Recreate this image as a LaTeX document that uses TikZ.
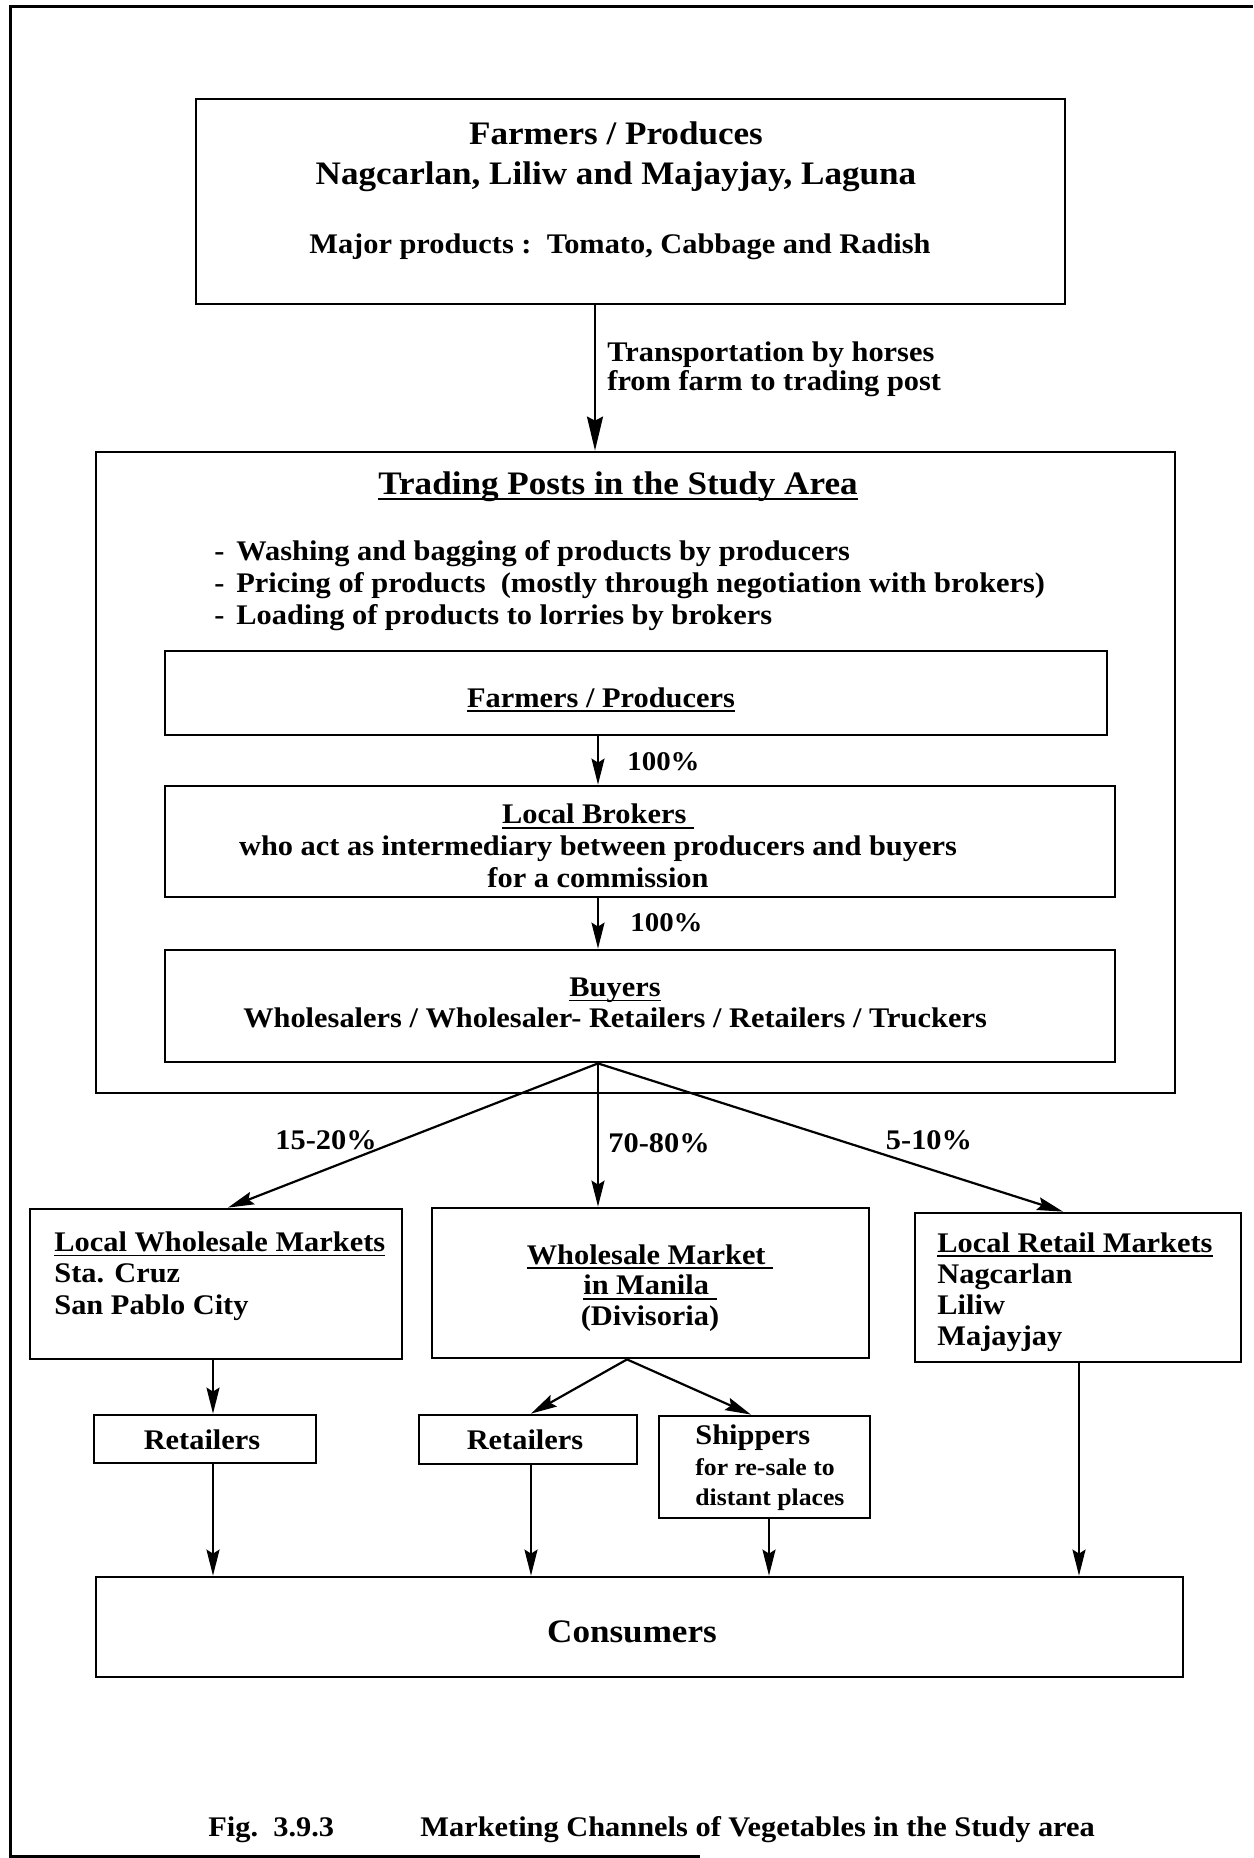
\documentclass[tikz,border=0pt]{standalone}
\usepackage{fontspec}
\setmainfont[FakeStretch=1.07]{Liberation Serif}
\usetikzlibrary{arrows.meta,calc}
\newcommand{\myul}[1]{\setbox0\hbox{#1}\rlap{\rule[-2.4pt]{\wd0}{0.9pt}}\box0}
\tikzset{
  box/.style={draw, line width=1.4pt, rectangle, inner sep=0pt},
  txt/.style={inner sep=0pt, font=\bfseries\fontsize{14.2}{16}\selectfont},
  txtw/.style={inner sep=0pt, font=\bfseries\fontsize{14.2}{15.6}\selectfont},
  big/.style={inner sep=0pt, font=\bfseries\fontsize{16.4}{20}\selectfont},
  arr/.style={line width=1.1pt, -{Stealth[length=13pt,width=6.5pt,inset=2pt]}},
  bigarr/.style={line width=1.1pt, -{Stealth[length=17pt,width=8pt,inset=2pt]}},
  frame/.style={line width=1.5pt},
}
\begin{document}
\begin{tikzpicture}[x=0.5pt,y=-0.5pt]
\useasboundingbox (0,0) rectangle (1253,1858);
\fill[white] (0,0) rectangle (1253,1858);
% page frame
\coordinate (ftl) at (10,6);
\coordinate (ftr) at (1253,6);
\coordinate (fbl) at (10,1856);
\coordinate (fbr) at (700,1856);
\draw[frame] (ftr) -- (ftl) -- (fbl) -- (fbr);

% boxes
\node[box, minimum width=434.5pt, minimum height=102.5pt] (farm) at (630.5,201.5) {};
\node[box, minimum width=539.5pt, minimum height=320.5pt] (trade) at (635.5,772.5) {};
\node[box, minimum width=471pt, minimum height=42pt] (fp) at (636,693) {};
\node[box, minimum width=475pt, minimum height=55.5pt] (brk) at (640,841.5) {};
\node[box, minimum width=475pt, minimum height=56pt] (buy) at (640,1006) {};
\node[box, minimum width=186pt, minimum height=75pt] (lw) at (216,1284) {};
\node[box, minimum width=218.5pt, minimum height=75pt] (man) at (650.5,1283) {};
\node[box, minimum width=163pt, minimum height=74.5pt] (ret) at (1078,1287.5) {};
\node[box, minimum width=111pt, minimum height=24pt] (rl) at (205,1439) {};
\node[box, minimum width=109pt, minimum height=24.5pt] (rm) at (528,1439.5) {};
\node[box, minimum width=105.5pt, minimum height=51pt] (ship) at (764.5,1467) {};
\node[box, minimum width=543.5pt, minimum height=50pt] (cons) at (639.5,1627) {};

% texts
\node[big, align=center] (farmt) at (616,157) {Farmers / Produces\\Nagcarlan, Liliw and Majayjay, Laguna};
\node[txt] (major) at (620,247) {Major products :\ \ Tomato, Cabbage and Radish};
\node[txt, anchor=west, align=left, font=\bfseries\fontsize{14.2}{14.5}\selectfont] (transp) at (607,369) {Transportation by horses\\from farm to trading post};
\node[big] (title) at (618,487) {\myul{Trading Posts in the Study Area}};
\node[txt, anchor=west, align=left] (bul) at (214,586) {\makebox[11pt][l]{-}Washing and bagging of products by producers\\\makebox[11pt][l]{-}Pricing of products\ \ (mostly through negotiation with brokers)\\\makebox[11pt][l]{-}Loading of products to lorries by brokers};
\node[txt] (fpt) at (601,700) {\myul{Farmers / Producers}};
\node[txt, anchor=west, font=\bfseries\fontsize{13.5}{14}\selectfont] (p1) at (627,762) {100\%};
\node[txt, align=center] (brkt) at (598,846) {\myul{Local Brokers\ }\\who act as intermediary between producers and buyers\\for a commission};
\node[txt, anchor=west, font=\bfseries\fontsize{13.5}{14}\selectfont] (p2) at (630,923) {100\%};
\node[txt, align=center, font=\bfseries\fontsize{14.2}{15.5}\selectfont] (buyt) at (615,1003) {\myul{Buyers}\\Wholesalers / Wholesaler- Retailers / Retailers / Truckers};
\node[txt] (p3) at (326,1140) {15-20\%};
\node[txt] (p4) at (659,1143) {70-80\%};
\node[txt] (p5) at (929,1140) {5-10\%};
\node[txtw, anchor=west, align=left] (lwt) at (54,1276) {\myul{Local Wholesale Markets}\\Sta. Cruz\\San Pablo City};
\node[txtw, align=center, font=\bfseries\fontsize{14.2}{15.2}\selectfont] (mant) at (650,1288) {\myul{Wholesale Market\ }\\\myul{in Manila\ }\\(Divisoria)};
\node[txtw, anchor=west, align=left] (rett) at (937,1292) {\myul{Local Retail Markets}\\Nagcarlan\\Liliw\\Majayjay};
\node[txt] (rlt) at (202,1440) {Retailers};
\node[txt] (rmt) at (525,1440) {Retailers};
\node[txt, anchor=west, align=left, font=\bfseries\fontsize{14.2}{15.2}\selectfont] (shipt) at (695,1468) {Shippers\\{\fontsize{12}{15.2}\selectfont for re-sale to}\\{\fontsize{12}{15.2}\selectfont distant places}};
\node[big] (const) at (632,1632) {Consumers};
\node[txt, anchor=base west] (fig) at (208,1836) {Fig.\ \ 3.9.3};
\node[txt, anchor=base west] (cap) at (420,1836) {Marketing Channels of Vegetables in the Study area};

% connectors
\coordinate (xa) at (595,0);
\coordinate (xb) at (598,0);
\coordinate (xlw) at (228,0);
\coordinate (xret) at (1063,0);
\coordinate (xm) at (627,0);
\coordinate (xrm) at (531,0);
\coordinate (xsh) at (751,0);
\coordinate (xl) at (213,0);
\coordinate (xs2) at (769,0);
\coordinate (xr2) at (1079,0);

\draw[bigarr] (farm.south -| xa) -- (trade.north -| xa);
\draw[arr] (fp.south -| xb) -- (brk.north -| xb);
\draw[arr] (brk.south -| xb) -- (buy.north -| xb);
\coordinate (bs) at (buy.south -| xb);
\draw[arr] (bs) -- (lw.north -| xlw);
\draw[arr] (bs) -- (man.north -| xb);
\draw[arr] (bs) -- (ret.north -| xret);
\coordinate (ms) at (man.south -| xm);
\draw[arr] (ms) -- (rm.north -| xrm);
\draw[arr] (ms) -- (ship.north -| xsh);
\draw[arr] (lw.south -| xl) -- (rl.north -| xl);
\draw[arr] (rl.south -| xl) -- (cons.north -| xl);
\draw[arr] (rm.south -| xrm) -- (cons.north -| xrm);
\draw[arr] (ship.south -| xs2) -- (cons.north -| xs2);
\draw[arr] (ret.south -| xr2) -- (cons.north -| xr2);
\end{tikzpicture}
\end{document}
